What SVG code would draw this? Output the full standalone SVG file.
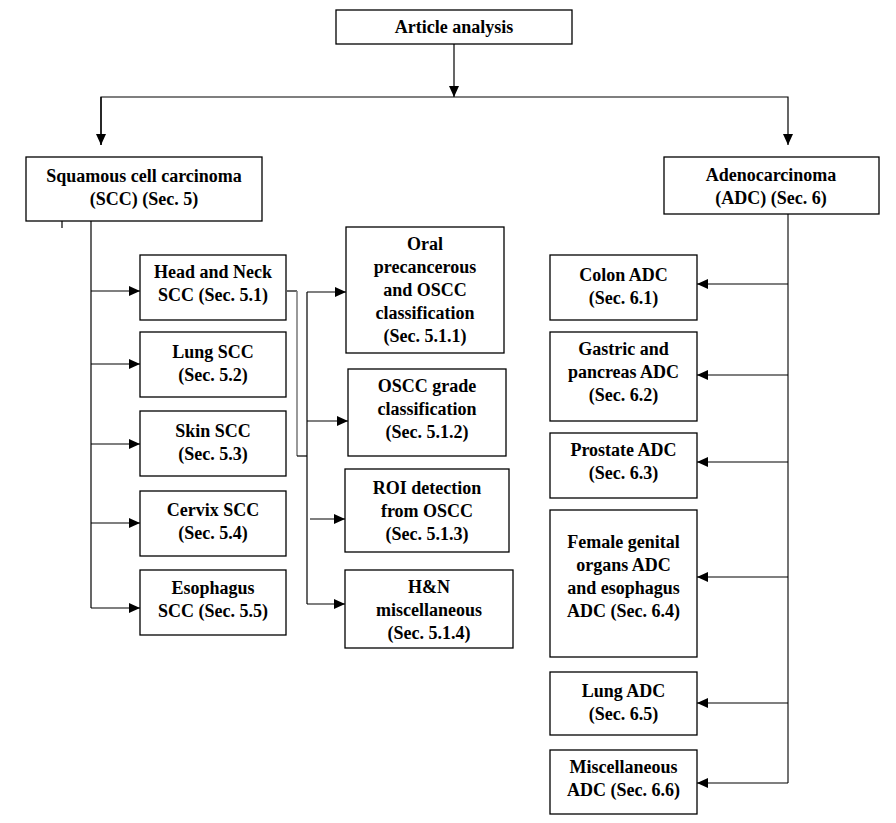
<svg xmlns="http://www.w3.org/2000/svg" width="896" height="823" viewBox="0 0 896 823">
<style>
.box{fill:#fff;stroke:#000;stroke-width:1.3}
.t{font-family:"Liberation Serif","Times New Roman",serif;font-weight:bold;font-size:18px;fill:#000;text-anchor:middle}
.c{fill:none;stroke:#000;stroke-width:1.2}
.g{fill:none;stroke:#808080;stroke-width:1.6}
</style>
<defs>
<marker id="ah" markerUnits="userSpaceOnUse" markerWidth="12" markerHeight="10" refX="11" refY="5" orient="auto">
<path d="M0,0 L11,5 L0,10 Z" fill="#000"/>
</marker>
</defs>
<rect width="896" height="823" fill="#fff"/>
<g id="connectors">
<line class="c" x1="454" y1="44" x2="454" y2="97" marker-end="url(#ah)"/>
<polyline class="c" points="101,145 101,97 788,97 788,145" marker-end="url(#ah)"/>
<line class="c" x1="101" y1="97" x2="101" y2="145" marker-end="url(#ah)"/>
<line class="c" x1="62" y1="207" x2="62" y2="228"/>
<line class="c" x1="91" y1="221" x2="91" y2="608"/>
<line class="c" x1="91" y1="291" x2="140" y2="291" marker-end="url(#ah)"/>
<line class="c" x1="91" y1="364" x2="140" y2="364" marker-end="url(#ah)"/>
<line class="c" x1="91" y1="444" x2="140" y2="444" marker-end="url(#ah)"/>
<line class="c" x1="91" y1="523" x2="140" y2="523" marker-end="url(#ah)"/>
<line class="c" x1="91" y1="608" x2="140" y2="608" marker-end="url(#ah)"/>
<line class="c" x1="287" y1="291" x2="297" y2="291"/>
<line class="g" x1="297" y1="291" x2="297" y2="456"/>
<line class="c" x1="297" y1="456" x2="307" y2="456"/>
<line class="c" x1="307" y1="292" x2="307" y2="604"/>
<line class="c" x1="307" y1="292" x2="346" y2="292" marker-end="url(#ah)"/>
<line class="c" x1="307" y1="421" x2="348" y2="421" marker-end="url(#ah)"/>
<line class="c" x1="310" y1="519" x2="345" y2="519" marker-end="url(#ah)"/>
<line class="c" x1="307" y1="604" x2="345" y2="604" marker-end="url(#ah)"/>
<line x1="788" y1="214" x2="788" y2="783" stroke="#444" stroke-width="1.5"/>
<line class="c" x1="788" y1="284" x2="697" y2="284" marker-end="url(#ah)"/>
<line class="c" x1="788" y1="375" x2="697" y2="375" marker-end="url(#ah)"/>
<line class="c" x1="788" y1="462" x2="697" y2="462" marker-end="url(#ah)"/>
<line class="c" x1="788" y1="577" x2="697" y2="577" marker-end="url(#ah)"/>
<line class="c" x1="788" y1="703" x2="697" y2="703" marker-end="url(#ah)"/>
<line class="c" x1="788" y1="783" x2="697" y2="783" marker-end="url(#ah)"/>
</g>
<g id="article"><rect class="box" x="336" y="10" width="236" height="34"/><text class="t" x="454" y="33">Article analysis</text></g>
<g id="scc"><rect class="box" x="26" y="157" width="236" height="64"/><text class="t" x="144" y="182">Squamous cell carcinoma</text><text class="t" x="144" y="205">(SCC) (Sec. 5)</text></g>
<g id="adc"><rect class="box" x="664" y="157" width="215" height="57"/><text class="t" x="771" y="181">Adenocarcinoma</text><text class="t" x="771" y="204">(ADC) (Sec. 6)</text></g>
<g id="hn"><rect class="box" x="140" y="255" width="146" height="65"/><text class="t" x="213" y="278">Head and Neck</text><text class="t" x="213" y="301">SCC (Sec. 5.1)</text></g>
<g id="lungscc"><rect class="box" x="140" y="332" width="146" height="65"/><text class="t" x="213" y="358">Lung SCC</text><text class="t" x="213" y="381">(Sec. 5.2)</text></g>
<g id="skin"><rect class="box" x="140" y="411" width="146" height="65"/><text class="t" x="213" y="437">Skin SCC</text><text class="t" x="213" y="460">(Sec. 5.3)</text></g>
<g id="cervix"><rect class="box" x="140" y="491" width="146" height="65"/><text class="t" x="213" y="516">Cervix SCC</text><text class="t" x="213" y="539">(Sec. 5.4)</text></g>
<g id="esoscc"><rect class="box" x="140" y="570" width="146" height="65"/><text class="t" x="213" y="594">Esophagus</text><text class="t" x="213" y="617">SCC (Sec. 5.5)</text></g>
<g id="oral"><rect class="box" x="346" y="227" width="158" height="126"/><text class="t" x="425" y="250">Oral</text><text class="t" x="425" y="273">precancerous</text><text class="t" x="425" y="296">and OSCC</text><text class="t" x="425" y="319">classification</text><text class="t" x="425" y="342">(Sec. 5.1.1)</text></g>
<g id="grade"><rect class="box" x="348" y="369" width="158" height="87"/><text class="t" x="427" y="392">OSCC grade</text><text class="t" x="427" y="415">classification</text><text class="t" x="427" y="438">(Sec. 5.1.2)</text></g>
<g id="roi"><rect class="box" x="345" y="469" width="164" height="83"/><text class="t" x="427" y="494">ROI detection</text><text class="t" x="427" y="517">from OSCC</text><text class="t" x="427" y="540">(Sec. 5.1.3)</text></g>
<g id="hnmisc"><rect class="box" x="345" y="570" width="168" height="78"/><text class="t" x="429" y="593">H&amp;N</text><text class="t" x="429" y="616">miscellaneous</text><text class="t" x="429" y="639">(Sec. 5.1.4)</text></g>
<g id="colon"><rect class="box" x="550" y="255" width="147" height="65"/><text class="t" x="623.5" y="281">Colon ADC</text><text class="t" x="623.5" y="304">(Sec. 6.1)</text></g>
<g id="gastric"><rect class="box" x="550" y="332" width="147" height="89"/><text class="t" x="623.5" y="355">Gastric and</text><text class="t" x="623.5" y="378">pancreas ADC</text><text class="t" x="623.5" y="401">(Sec. 6.2)</text></g>
<g id="prostate"><rect class="box" x="550" y="433" width="147" height="65"/><text class="t" x="623.5" y="456">Prostate ADC</text><text class="t" x="623.5" y="479">(Sec. 6.3)</text></g>
<g id="female"><rect class="box" x="550" y="510" width="147" height="147"/><text class="t" x="623.5" y="548">Female genital</text><text class="t" x="623.5" y="571">organs ADC</text><text class="t" x="623.5" y="594">and esophagus</text><text class="t" x="623.5" y="617">ADC (Sec. 6.4)</text></g>
<g id="lungadc"><rect class="box" x="550" y="672" width="147" height="63"/><text class="t" x="623.5" y="697">Lung ADC</text><text class="t" x="623.5" y="720">(Sec. 6.5)</text></g>
<g id="miscadc"><rect class="box" x="550" y="750" width="147" height="64"/><text class="t" x="623.5" y="773">Miscellaneous</text><text class="t" x="623.5" y="796">ADC (Sec. 6.6)</text></g>
</svg>
